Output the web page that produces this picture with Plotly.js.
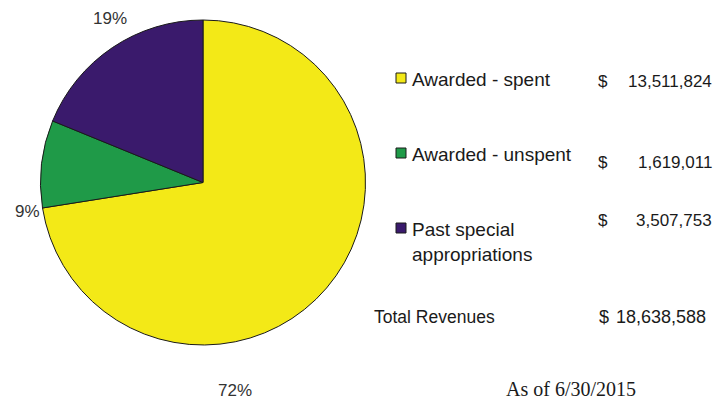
<!DOCTYPE html>
<html>
<head>
<meta charset="utf-8">
<script src="https://cdn.plot.ly/plotly-3.0.1.min.js"></script>
<style>html,body{margin:0;padding:0;background:#fff;}#chart{width:719px;height:407px;}</style>
</head>
<body>
<div id="chart"></div>
<script>
// Data
const categories = ["Awarded - spent", "Awarded - unspent", "Past special appropriations"];
const legendLabels = ["Awarded - spent", "Awarded - unspent", "Past special<br>appropriations"];
const values = [13511824, 1619011, 3507753];
const totalLabel = "Total Revenues";
const totalValue = 18638588;
const asOfText = "As of 6/30/2015";
const colors = ["#f3e917", "#1f9a48", "#3a1a6c"];

const fmt = v => v.toLocaleString("en-US");
const sum = values.reduce((a, b) => a + b, 0);
const pct = values.map(v => Math.round(v / sum * 100) + "%");

const W = 719, H = 407;
const px = x => x / W, py = y => 1 - y / H;

const trace = {
  type: "pie",
  labels: categories,
  values: values,
  sort: false,
  direction: "clockwise",
  rotation: 0,
  textinfo: "none",
  hoverinfo: "label+value+percent",
  showlegend: false,
  marker: { colors: colors, line: { color: "#1a1a1a", width: 1 } },
  domain: { x: [px(40.5), px(365.5)], y: [py(345), py(20)] }
};

const annotations = [];
const shapes = [];
const labelFont = { family: "Liberation Sans, Arial, sans-serif", size: 19, color: "#1a1a1a" };
const numFont = { family: "Liberation Sans, Arial, sans-serif", size: 17, color: "#1a1a1a" };

// percent labels
const pctPos = [[235, 390], [27, 211], [110, 18]];
pct.forEach((t, i) => {
  annotations.push({ x: px(pctPos[i][0]), y: py(pctPos[i][1]), xref: "paper", yref: "paper",
    text: t, showarrow: false, xanchor: "center", yanchor: "middle",
    font: { family: "Liberation Sans, Arial, sans-serif", size: 17, color: "#333" } });
});

// legend rows
const rowY = [78, 153, 228];
const numY = [81, 162, 220];
categories.forEach((c, i) => {
  shapes.push({ type: "rect", xref: "paper", yref: "paper",
    x0: px(396), x1: px(406), y0: py(rowY[i] - 5), y1: py(rowY[i] + 5),
    fillcolor: colors[i], line: { color: "#1a1a1a", width: 1 } });
  annotations.push({ x: px(410), y: py(rowY[i] - 11), xref: "paper", yref: "paper",
    text: legendLabels[i], showarrow: false, xanchor: "left", yanchor: "top", align: "left",
    font: labelFont });
  annotations.push({ x: px(596), y: py(numY[i]), xref: "paper", yref: "paper",
    text: "$", showarrow: false, xanchor: "left", yanchor: "middle", font: numFont });
  annotations.push({ x: px(714), y: py(numY[i]), xref: "paper", yref: "paper",
    text: fmt(values[i]), showarrow: false, xanchor: "right", yanchor: "middle", font: numFont });
});

annotations.push({ x: px(372), y: py(317), xref: "paper", yref: "paper", text: totalLabel,
  showarrow: false, xanchor: "left", yanchor: "middle",
  font: { family: "Liberation Sans, Arial, sans-serif", size: 17.5, color: "#1a1a1a" } });
annotations.push({ x: px(597), y: py(317), xref: "paper", yref: "paper", text: "$",
  showarrow: false, xanchor: "left", yanchor: "middle", font: { ...numFont, size: 18 } });
annotations.push({ x: px(708), y: py(317), xref: "paper", yref: "paper", text: fmt(totalValue),
  showarrow: false, xanchor: "right", yanchor: "middle", font: { ...numFont, size: 18 } });
annotations.push({ x: px(571), y: py(389), xref: "paper", yref: "paper", text: asOfText,
  showarrow: false, xanchor: "center", yanchor: "middle",
  font: { family: "Liberation Serif, Times New Roman, serif", size: 20, color: "#1a1a1a" } });

const layout = {
  width: W, height: H,
  margin: { l: 0, r: 0, t: 0, b: 0 },
  paper_bgcolor: "#ffffff",
  showlegend: false,
  annotations: annotations,
  shapes: shapes
};

Plotly.newPlot("chart", [trace], layout, { displayModeBar: false, staticPlot: true });
</script>
</body>
</html>
